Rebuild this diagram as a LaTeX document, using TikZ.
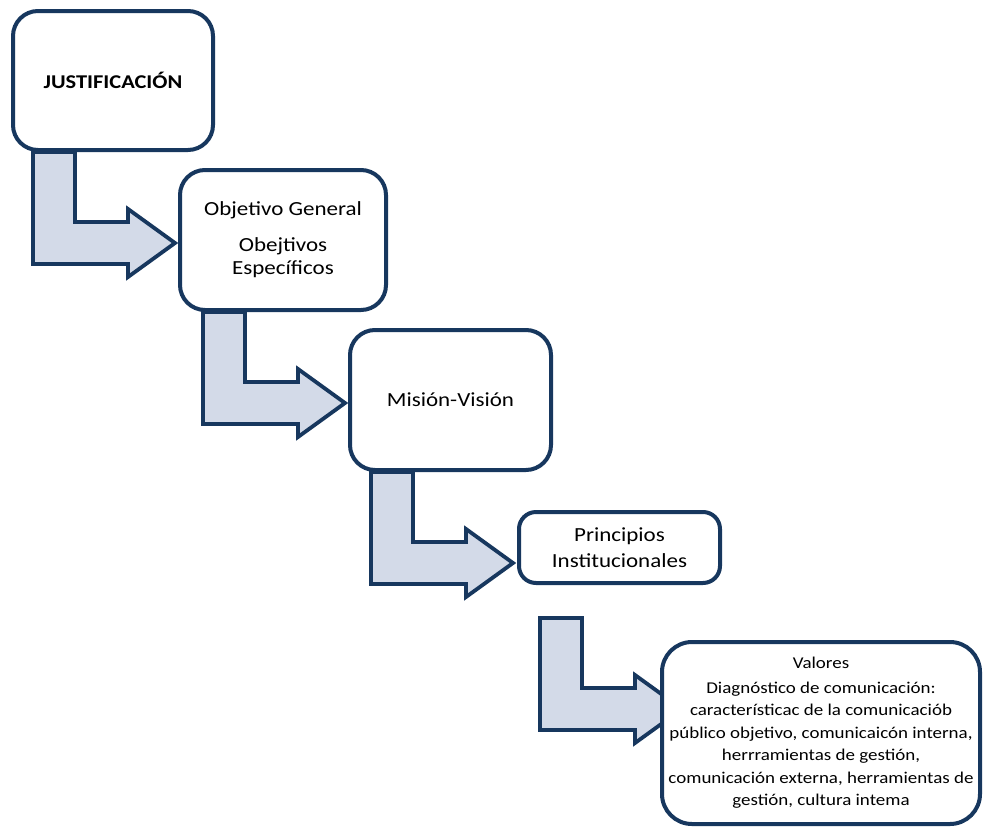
\documentclass[tikz,border=0pt]{standalone}
\usepackage{fontspec}
\setmainfont{Carlito}[FakeStretch=1.15]
\definecolor{navy}{HTML}{17375E}
\definecolor{lightfill}{HTML}{D3DAE8}
\pgfdeclarelayer{background}
\pgfsetlayers{background,main}
\tikzset{
  box/.style={draw=navy, line width=4pt, fill=white, rounded corners=25pt,
    align=center, inner sep=0pt, text=black},
  bent/.style={draw=navy, line width=3.8pt, fill=lightfill, line join=miter},
  bentarrow/.pic={
    \path[bent] (-142,-91) -- (-142,21) -- (-47,21) -- (-47,34) -- (0,0)
      -- (-47,-34) -- (-47,-21) -- (-100,-21) -- (-100,-91) -- cycle;
  }
}
\begin{document}
\begin{tikzpicture}[x=1pt,y=-1pt]
\useasboundingbox (0,0) rectangle (985,830);

% steps of the plan
\node[box, minimum width=200, minimum height=139,
  font=\bfseries\fontsize{19.5}{24}\selectfont] (b1) at (113,80.5) {JUSTIFICACIÓN};
\node[box, minimum width=206, minimum height=140,
  font=\fontsize{20}{23}\selectfont] (b2) at (283,240)
  {Objetivo General\\[13pt] Obejtivos\\ Específicos};
\node[box, minimum width=201, minimum height=140,
  font=\fontsize{20}{23}\selectfont] (b3) at (450.5,400) {Misión-Visión};
\node[box, minimum width=201, minimum height=71, rounded corners=17pt,
  font=\fontsize{20}{26}\selectfont] (b4) at (619.5,547.5)
  {Principios\\ Institucionales};
\node[box, minimum width=318, minimum height=182, rounded corners=30pt,
  font=\fontsize{16.5}{22.5}\selectfont] (b5) at (821,733)
  {Valores\\[2pt]
   Diagnóstico de comunicación:\\
   característicac de la comunicaciób\\
   público objetivo, comunicaicón interna,\\
   herrramientas de gestión,\\
   comunicación externa, herramientas de\\
   gestión, cultura intema};

% tips of the bent arrows
\coordinate (t1) at ([xshift=-3pt,yshift=-3pt]b2.west);
\coordinate (t2) at ([xshift=-3pt,yshift=-3pt]b3.west);
\coordinate (t3) at ([xshift=-4pt,yshift=-15.5pt]b4.west);
\coordinate (t4) at ([xshift=22pt,yshift=24pt]b5.west);

% bent arrows behind the boxes
\begin{pgfonlayer}{background}
  \pic at (t1) {bentarrow};
  \pic at (t2) {bentarrow};
  \pic at (t3) {bentarrow};
  \pic at (t4) {bentarrow};
\end{pgfonlayer}
\end{tikzpicture}
\end{document}
